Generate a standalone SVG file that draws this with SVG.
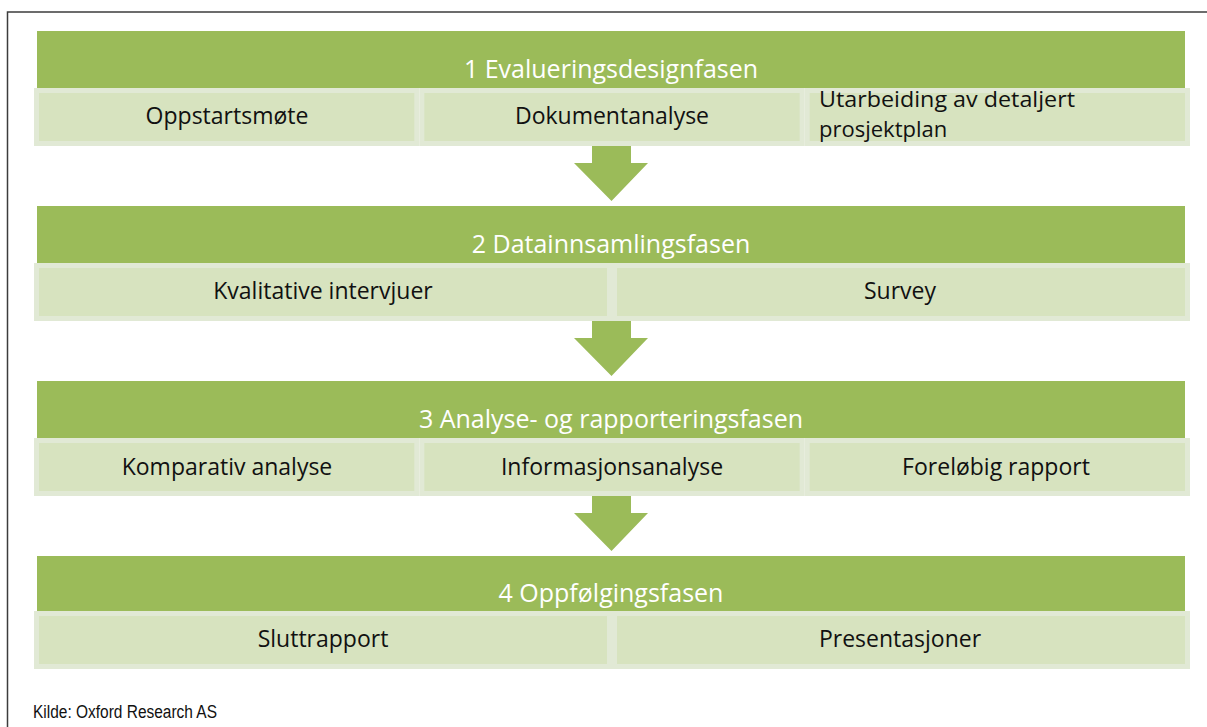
<svg xmlns="http://www.w3.org/2000/svg" width="1207" height="727" viewBox="0 0 1207 727">
  <defs>
    <style>
      .frame { fill: none; stroke: #3c3c3c; stroke-width: 1.5; }
      .head { fill: #9BBB59; }
      .cell { fill: #D7E3BF; stroke: #E1E9D5; stroke-width: 5; }
      .arrow { fill: #9BBB59; }
      .htxt { font-family: "Open Sans", "Noto Sans", "Liberation Sans", sans-serif; font-size: 25px; fill: #ffffff; text-anchor: middle; }
      .ctxt { font-family: "Open Sans", "Noto Sans", "Liberation Sans", sans-serif; font-size: 23px; fill: #111111; text-anchor: middle; }
      .ltxt { text-anchor: start; font-size: 22px; }
      .src { font-family: "Liberation Sans", Arial, sans-serif; font-size: 18px; fill: #111111; }
    </style>
  </defs>

  <rect width="1207" height="727" fill="#ffffff"/>

  <!-- page frame: top and left rules -->
  <path class="frame" d="M7.5,727 V12 H1207"/>

  <!-- downward arrows between phases -->
  <g id="connectors">
    <polygon class="arrow" points="592,143 631,143 631,163 648,163 611.5,201 574,163 592,163"/>
    <polygon class="arrow" points="592,318 631,318 631,338 648,338 611.5,376 574,338 592,338"/>
    <polygon class="arrow" points="592,493 631,493 631,513 648,513 611.5,551 574,513 592,513"/>
  </g>

  <!-- phase 1 -->
  <g id="phase1">
    <rect class="head" x="37" y="31" width="1148" height="57"/>
    <text class="htxt" x="611" y="78">1 Evalueringsdesignfasen</text>
    <g id="p1-oppstart">
      <rect class="cell" x="36.5" y="90.5" width="380.3" height="53"/>
      <text class="ctxt" x="227" y="124">Oppstartsmøte</text>
    </g>
    <g id="p1-dokument">
      <rect class="cell" x="421.8" y="90.5" width="380.4" height="53"/>
      <text class="ctxt" x="612" y="124">Dokumentanalyse</text>
    </g>
    <g id="p1-prosjektplan">
      <rect class="cell" x="807.2" y="90.5" width="380.3" height="53"/>
      <text class="ctxt ltxt" x="819" y="107" textLength="256" lengthAdjust="spacingAndGlyphs">Utarbeiding av detaljert</text>
      <text class="ctxt ltxt" x="819" y="137">prosjektplan</text>
    </g>
  </g>

  <!-- phase 2 -->
  <g id="phase2">
    <rect class="head" x="37" y="206" width="1148" height="57"/>
    <text class="htxt" x="611" y="253">2 Datainnsamlingsfasen</text>
    <g id="p2-intervjuer">
      <rect class="cell" x="36.5" y="265.5" width="573" height="53"/>
      <text class="ctxt" x="323" y="299">Kvalitative intervjuer</text>
    </g>
    <g id="p2-survey">
      <rect class="cell" x="614.5" y="265.5" width="573" height="53"/>
      <text class="ctxt" x="900" y="299">Survey</text>
    </g>
  </g>

  <!-- phase 3 -->
  <g id="phase3">
    <rect class="head" x="37" y="381" width="1148" height="57"/>
    <text class="htxt" x="611" y="428">3 Analyse- og rapporteringsfasen</text>
    <g id="p3-komparativ">
      <rect class="cell" x="36.5" y="440.5" width="380.3" height="53"/>
      <text class="ctxt" x="227" y="475">Komparativ analyse</text>
    </g>
    <g id="p3-informasjon">
      <rect class="cell" x="421.8" y="440.5" width="380.4" height="53"/>
      <text class="ctxt" x="612" y="475">Informasjonsanalyse</text>
    </g>
    <g id="p3-rapport">
      <rect class="cell" x="807.2" y="440.5" width="380.3" height="53"/>
      <text class="ctxt" x="996" y="475">Foreløbig rapport</text>
    </g>
  </g>

  <!-- phase 4 -->
  <g id="phase4">
    <rect class="head" x="37" y="556" width="1148" height="56"/>
    <text class="htxt" x="611" y="602">4 Oppfølgingsfasen</text>
    <g id="p4-sluttrapport">
      <rect class="cell" x="36.5" y="613.5" width="573" height="53"/>
      <text class="ctxt" x="323" y="647">Sluttrapport</text>
    </g>
    <g id="p4-presentasjoner">
      <rect class="cell" x="614.5" y="613.5" width="573" height="53"/>
      <text class="ctxt" x="900" y="647">Presentasjoner</text>
    </g>
  </g>

  <!-- source line -->
  <text class="src" x="33" y="718" textLength="184" lengthAdjust="spacingAndGlyphs">Kilde: Oxford Research AS</text>
</svg>
